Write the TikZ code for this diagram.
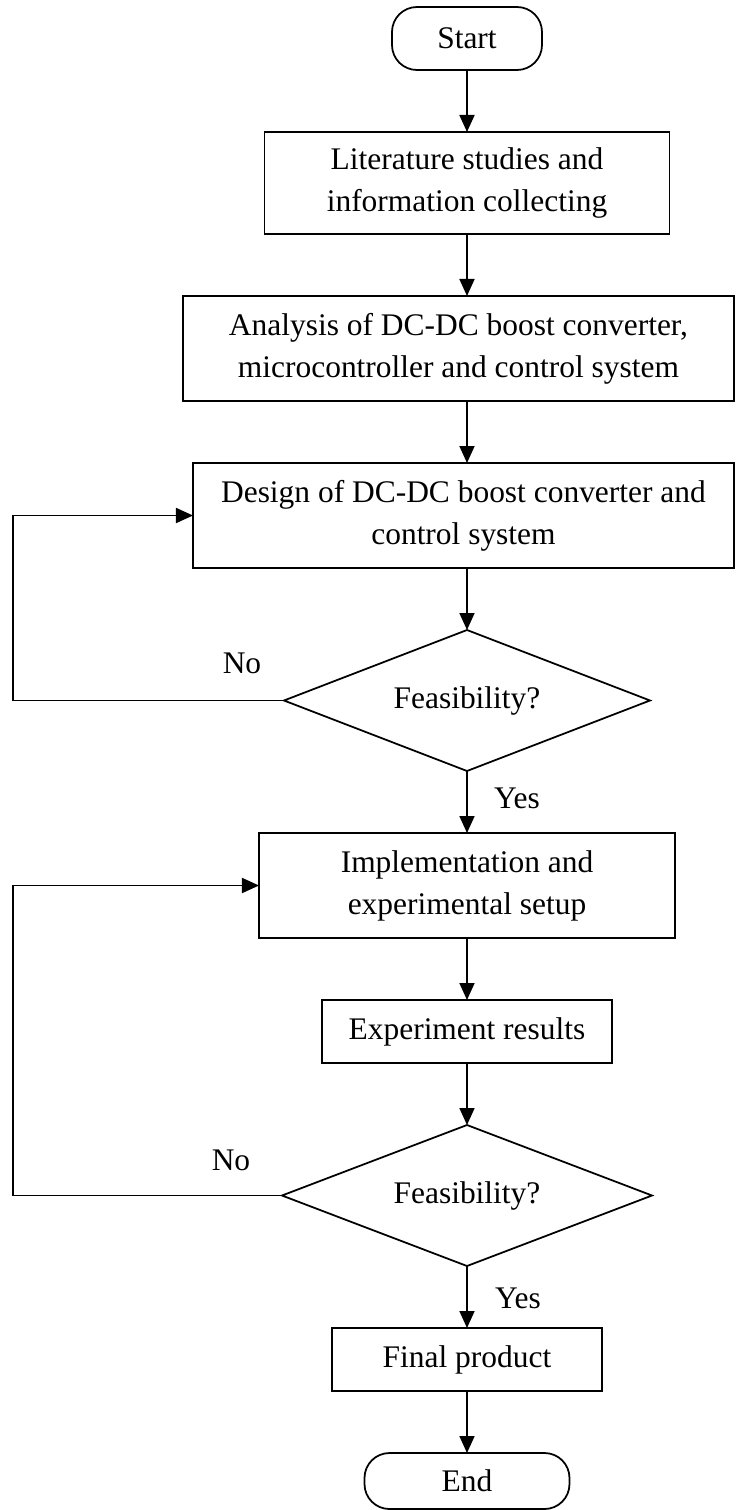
\documentclass[tikz,border=0pt]{standalone}
\usepackage{fontspec}
\setmainfont{Liberation Serif}
\usetikzlibrary{shapes.geometric,arrows.meta,positioning}

\begin{document}
\begin{tikzpicture}[
  node distance=1.24cm,
  every node/.style={font=\fontsize{17.9}{23.9}\selectfont},
  box/.style={
    draw,
    line width=1pt,
    minimum width=8.1cm,
    minimum height=2.04cm,
    align=center,
    inner sep=0pt,
    outer sep=0pt
  },
  decision/.style={
    draw,
    diamond,
    aspect=2.6,
    line width=1pt,
    minimum width=7.32cm,
    minimum height=2.82cm,
    inner sep=0pt,
    outer sep=0pt
  },
  terminal/.style={
    draw,
    rounded corners=0.5cm,
    line width=1pt,
    minimum width=3cm,
    minimum height=1.26cm,
    outer sep=0pt
  },
  arrow/.style={-{Triangle[length=0.34cm,width=0.3cm]},line width=1pt}
]

  \useasboundingbox (-9.34,0.77) rectangle (5.38,-29.43);

  \node[terminal] (start) {Start};
  \node[box,below=of start] (lit) {Literature studies and\\information collecting};

  \node[box,below=of lit,xshift=-0.17cm,
        minimum width=11.02cm,minimum height=2.1cm]
    (analysis) {Analysis of DC-DC boost converter,\\microcontroller and control system};

  \node[box,below=of analysis,xshift=0.1cm,
        minimum width=10.82cm,minimum height=2.1cm]
    (design) {Design of DC-DC boost converter and\\control system};

  \node[decision,below=of design,xshift=0.07cm] (feas1) {Feasibility?};

  \node[box,below=of feas1,minimum width=8.32cm,minimum height=2.1cm]
    (impl) {Implementation and\\experimental setup};

  \node[box,below=of impl,minimum width=5.8cm,minimum height=1.26cm]
    (results) {Experiment results};

  \node[decision,below=of results,minimum width=7.4cm] (feas2) {Feasibility?};

  \node[box,below=of feas2,minimum width=5.4cm,minimum height=1.26cm]
    (final) {Final product};

  \node[terminal,below=of final,minimum width=4.1cm,minimum height=1.12cm]
    (stop) {End};

  % labels of the decisions
  \node (no1) at ([xshift=-0.84cm,yshift=0.74cm]feas1.west) {No};
  \node (no2) at ([xshift=-1.02cm,yshift=0.7cm]feas2.west) {No};
  \node (yes1) at ([xshift=1.0cm,yshift=-0.54cm]feas1.south) {Yes};
  \node (yes2) at ([xshift=1.02cm,yshift=-0.64cm]feas2.south) {Yes};

  \coordinate (loopx) at (-9.08,0);

  \draw[arrow] (start) -- (lit);
  \draw[arrow] (lit) -- (analysis.north -| lit);
  \draw[arrow] (analysis.south -| lit) -- (design.north -| lit);
  \draw[arrow] (design.south -| feas1) -- (feas1);
  \draw[arrow] (feas1) -- (impl);
  \draw[arrow] (impl) -- (results);
  \draw[arrow] (results) -- (feas2);
  \draw[arrow] (feas2) -- (final);
  \draw[arrow] (final) -- (stop);

  % feedback loops
  \draw[arrow] (feas1.west) -- (feas1.west -| loopx) |- (design.west);
  \draw[arrow] (feas2.west) -- (feas2.west -| loopx) |- (impl.west);

\end{tikzpicture}
\end{document}
